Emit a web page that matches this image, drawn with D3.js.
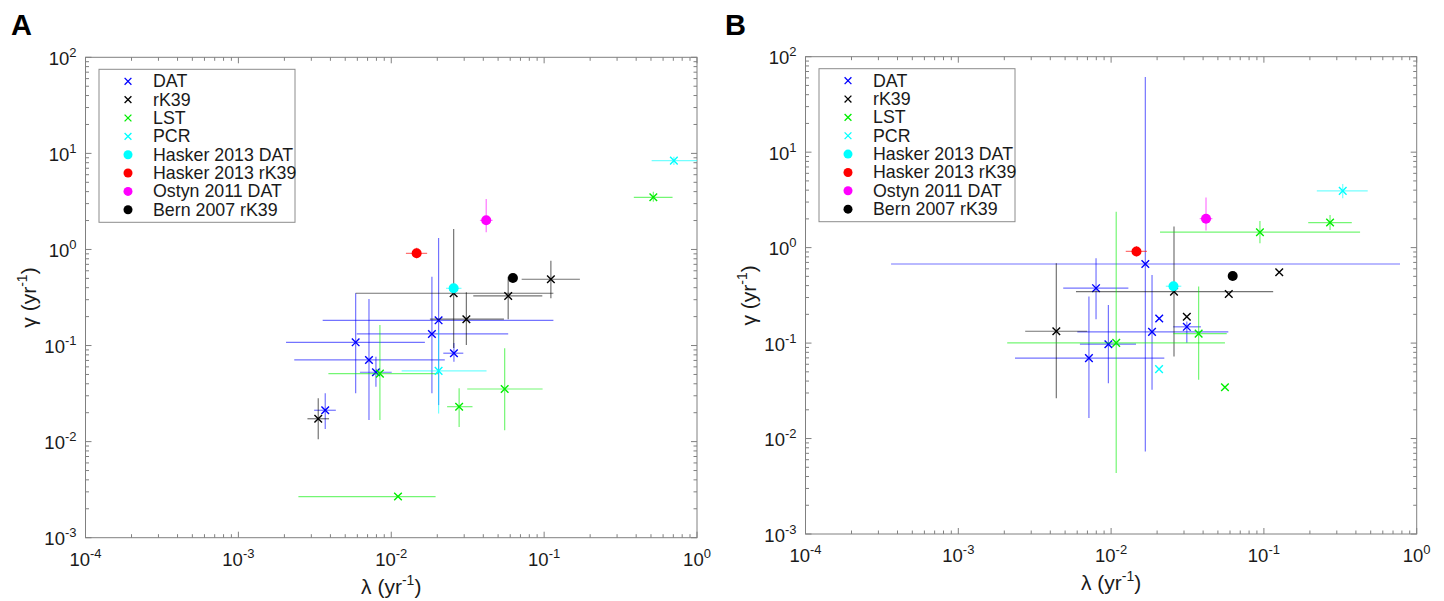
<!DOCTYPE html>
<html>
<head>
<meta charset="utf-8">
<script src="https://cdn.jsdelivr.net/npm/d3@7"></script>
<style>
  html, body { margin: 0; padding: 0; background: #fff; }
  svg { display: block; font-family: "Liberation Sans", Arial, Helvetica, sans-serif; }
</style>
</head>
<body>
<svg id="chart" width="1444" height="601"></svg>
<script>
// ---------------- DATA ----------------
// columns: [lambda, lambdaLow, lambdaHigh, gamma, gammaLow, gammaHigh]  (null = no error bar)
const seriesNames = ["DAT", "rK39", "LST", "PCR", "Hasker 2013 DAT", "Hasker 2013 rK39", "Ostyn 2011 DAT", "Bern 2007 rK39"];
const seriesColors = ["#0000ff", "#000000", "#00ee00", "#00ffff", "#00ffff", "#ff0000", "#ff00ff", "#000000"];
const seriesMarkers = ["x", "x", "x", "x", "o", "o", "o", "o"];

const xTickExps = [-4, -3, -2, -1, 0];
const yTickExps = [-3, -2, -1, 0, 1, 2];
const panelLetters = ["A", "B"];

const A_DAT = [
  [0.0204, 0.00356, 0.115, 0.183, 0.024, 1.32],
  [0.01845, 0.00594, 0.0582, 0.132, 0.0319, 0.521],
  [0.00585, 0.00205, 0.0166, 0.108, 0.0319, 0.35],
  [0.00715, 0.00232, 0.0224, 0.0708, 0.0168, 0.305],
  [0.00794, 0.00624, 0.01007, 0.0527, 0.0373, 0.0766],
  [0.0257, 0.0219, 0.0296, 0.0832, 0.0679, 0.106],
  [0.0037, 0.00313, 0.00434, 0.0212, 0.01355, 0.0319]
];
const A_rK39 = [
  [0.1107, 0.0713, 0.1714, 0.49, 0.31, 0.764],
  [0.0582, 0.0344, 0.0973, 0.328, 0.188, 0.521],
  [0.0256, 0.00585, 0.115, 0.35, 0.0944, 1.63],
  [0.031, 0.0179, 0.0546, 0.188, 0.1014, 0.359],
  [0.00333, 0.00283, 0.00392, 0.0173, 0.0106, 0.0283]
];
const A_LST = [
  [0.518, 0.386, 0.692, 3.49, 3.14, 3.99],
  [0.00843, 0.00388, 0.0203, 0.051, 0.0168, 0.1637],
  [0.0552, 0.0314, 0.0977, 0.0353, 0.0131, 0.0938],
  [0.0278, 0.0232, 0.034, 0.0231, 0.0142, 0.036],
  [0.01107, 0.00247, 0.0195, 0.00268, null, null]
];
const A_PCR = [
  [0.706, 0.505, 1.2, 8.4, 7.57, 9.25],
  [0.0204, 0.0117, 0.042, 0.0545, 0.0196, 0.145]
];

const B_DAT = [
  [0.01675, 0.000363, 0.778, 0.674, 0.00731, 61.3],
  [0.00797, 0.00486, 0.01297, 0.376, 0.178, 0.774],
  [0.02065, null, null, 0.181, null, null],
  [0.01853, 0.00601, 0.0585, 0.131, 0.0324, 0.518],
  [0.0313, 0.0255, 0.0387, 0.148, 0.101, 0.168],
  [0.0096, 0.00625, 0.01456, 0.0973, 0.038, 0.251],
  [0.00716, 0.00235, 0.0223, 0.0695, 0.0164, 0.307]
];
const B_rK39 = [
  [0.0258, 0.00589, 0.115, 0.346, 0.0723, 1.66],
  [0.0589, null, null, 0.327, null, null],
  [0.126, null, null, 0.552, null, null],
  [0.0313, null, null, 0.189, null, null],
  [0.00438, 0.00274, 0.00698, 0.133, 0.0265, 0.687]
];
const B_LST = [
  [0.0942, 0.0209, 0.426, 1.45, 1.11, 1.90],
  [0.271, 0.195, 0.376, 1.83, 1.53, 2.20],
  [0.0374, 0.0255, 0.0571, 0.1256, 0.0412, 0.391],
  [0.0108, 0.00209, 0.0556, 0.1005, 0.00435, 2.38],
  [0.0556, null, null, 0.0345, null, null]
];
const B_PCR = [
  [0.328, 0.222, 0.478, 3.93, 3.29, 4.64],
  [0.0206, null, null, 0.0533, null, null]
];

// literature estimates (same in both panels)
const HASKER_DAT = [[0.0256, 0.0228, 0.0288, 0.394, 0.36, 0.44]];
const HASKER_RK39 = [[0.01466, 0.01247, 0.01717, 0.912, 0.809, 1.04]];
const OSTYN_DAT = [[0.0418, 0.038, 0.046, 2.01, 1.51, 3.35]];
const BERN_RK39 = [[0.0625, null, null, 0.505, null, null]];

const panelA = [A_DAT, A_rK39, A_LST, A_PCR, HASKER_DAT, HASKER_RK39, OSTYN_DAT, BERN_RK39];
const panelB = [B_DAT, B_rK39, B_LST, B_PCR, HASKER_DAT, HASKER_RK39, OSTYN_DAT, BERN_RK39];

// ---------------- LAYOUT ----------------
const panels = [
  { data: panelA, left: 85.5, right: 697, top: 57.3, bottom: 537.7, letterX: 11, id: "A" },
  { data: panelB, left: 805.5, right: 1416.7, top: 56.7, bottom: 534, letterX: 725, id: "B" }
];

const svg = d3.select("#chart");
const axisColor = "#808080";
const textColor = "#1a1a1a";

panels.forEach((p, pi) => {
  const x = d3.scaleLog().domain([1e-4, 1]).range([p.left, p.right]);
  const y = d3.scaleLog().domain([1e-3, 1e2]).range([p.bottom, p.top]);
  const g = svg.append("g");

  svg.append("text").attr("x", p.letterX).attr("y", 35)
    .attr("font-size", 29).attr("font-weight", "bold").attr("fill", "#000")
    .text(panelLetters[pi]);

  const clipId = "clip" + p.id;
  svg.append("clipPath").attr("id", clipId).append("rect")
    .attr("x", p.left).attr("y", p.top).attr("width", p.right - p.left).attr("height", p.bottom - p.top);

  // ticks (inward, all four sides)
  const major = [], minor = [];
  for (let e = -4; e <= 0; e++) { major.push(Math.pow(10, e)); if (e < 0) for (let k = 2; k <= 9; k++) minor.push(k * Math.pow(10, e)); }
  const ymajor = [], yminor = [];
  for (let e = -3; e <= 2; e++) { ymajor.push(Math.pow(10, e)); if (e < 2) for (let k = 2; k <= 9; k++) yminor.push(k * Math.pow(10, e)); }
  const tg = g.append("g").attr("stroke", axisColor).attr("stroke-width", 1);
  const tickLen = (isMajor) => isMajor ? 6 : 3.5;
  [[major, true], [minor, false]].forEach(([arr, isM]) => {
    arr.forEach(v => {
      const xx = x(v), L = tickLen(isM);
      tg.append("line").attr("x1", xx).attr("x2", xx).attr("y1", p.bottom).attr("y2", p.bottom - L);
      tg.append("line").attr("x1", xx).attr("x2", xx).attr("y1", p.top).attr("y2", p.top + L);
    });
  });
  [[ymajor, true], [yminor, false]].forEach(([arr, isM]) => {
    arr.forEach(v => {
      const yy = y(v), L = tickLen(isM);
      tg.append("line").attr("y1", yy).attr("y2", yy).attr("x1", p.left).attr("x2", p.left + L);
      tg.append("line").attr("y1", yy).attr("y2", yy).attr("x1", p.right).attr("x2", p.right - L);
    });
  });
  g.append("rect").attr("x", p.left).attr("y", p.top).attr("width", p.right - p.left).attr("height", p.bottom - p.top)
    .attr("fill", "none").attr("stroke", axisColor).attr("stroke-width", 1);

  // tick labels
  xTickExps.forEach(e => {
    const t = g.append("text").attr("x", x(Math.pow(10, e))).attr("y", p.bottom + 28)
      .attr("text-anchor", "middle").attr("font-size", 18.5).attr("fill", textColor);
    t.append("tspan").text("10");
    t.append("tspan").attr("font-size", 13).attr("dy", -8).text(String(e));
  });
  yTickExps.forEach(e => {
    const t = g.append("text").attr("x", p.left - 9).attr("y", y(Math.pow(10, e)) + 7.5)
      .attr("text-anchor", "end").attr("font-size", 18.5).attr("fill", textColor);
    t.append("tspan").text("10");
    t.append("tspan").attr("font-size", 13).attr("dy", -8).text(String(e));
  });

  // axis labels
  const xl = g.append("text").attr("x", (p.left + p.right) / 2).attr("y", p.bottom + 56)
    .attr("text-anchor", "middle").attr("font-size", 21).attr("fill", textColor);
  xl.append("tspan").text("\u03bb (yr");
  xl.append("tspan").attr("font-size", 14).attr("dy", -9).text("-1");
  xl.append("tspan").attr("dy", 9).text(")");
  const ylx = p.left - 50, yly = (p.top + p.bottom) / 2;
  const yl = g.append("text").attr("transform", `translate(${ylx},${yly}) rotate(-90)`)
    .attr("text-anchor", "middle").attr("font-size", 21).attr("fill", textColor);
  yl.append("tspan").text("\u03b3 (yr");
  yl.append("tspan").attr("font-size", 14).attr("dy", -9).text("-1");
  yl.append("tspan").attr("dy", 9).text(")");

  // data
  const dg = g.append("g").attr("clip-path", `url(#${clipId})`);
  p.data.forEach((series, si) => {
    const col = seriesColors[si];
    const sg = dg.append("g");
    series.forEach(d => {
      if (d[1] != null) sg.append("line").attr("x1", x(d[1])).attr("x2", x(d[2])).attr("y1", y(d[3])).attr("y2", y(d[3]))
        .attr("stroke", col).attr("stroke-opacity", 0.55).attr("stroke-width", 1.2);
      if (d[4] != null) sg.append("line").attr("x1", x(d[0])).attr("x2", x(d[0])).attr("y1", y(d[4])).attr("y2", y(d[5]))
        .attr("stroke", col).attr("stroke-opacity", 0.55).attr("stroke-width", 1.2);
    });
    series.forEach(d => {
      const cx = x(d[0]), cy = y(d[3]);
      if (seriesMarkers[si] === "x") {
        const s = 3.8;
        sg.append("path").attr("d", `M${cx - s},${cy - s}L${cx + s},${cy + s}M${cx - s},${cy + s}L${cx + s},${cy - s}`)
          .attr("stroke", col).attr("stroke-width", 1.4).attr("fill", "none");
      } else {
        sg.append("circle").attr("cx", cx).attr("cy", cy).attr("r", 5).attr("fill", col);
      }
    });
  });

  // legend
  const lx = p.left + 13.5, ly = p.top + 12;
  const lg = g.append("g");
  lg.append("rect").attr("x", lx).attr("y", ly).attr("width", 196).attr("height", 153)
    .attr("fill", "#fff").attr("stroke", "#8c8c8c").attr("stroke-width", 1);
  seriesNames.forEach((name, i) => {
    const cy = ly + 12 + i * 18.35;
    const mx = lx + 29;
    const col = seriesColors[i];
    if (seriesMarkers[i] === "x") {
      const s = 3.4;
      lg.append("path").attr("d", `M${mx - s},${cy - s}L${mx + s},${cy + s}M${mx - s},${cy + s}L${mx + s},${cy - s}`)
        .attr("stroke", col).attr("stroke-width", 1.3).attr("fill", "none");
    } else {
      lg.append("circle").attr("cx", mx).attr("cy", cy).attr("r", 4.5).attr("fill", col);
    }
    lg.append("text").attr("x", lx + 54).attr("y", cy + 6).attr("font-size", 17.8).attr("fill", textColor).text(name);
  });
});
</script>
</body>
</html>
